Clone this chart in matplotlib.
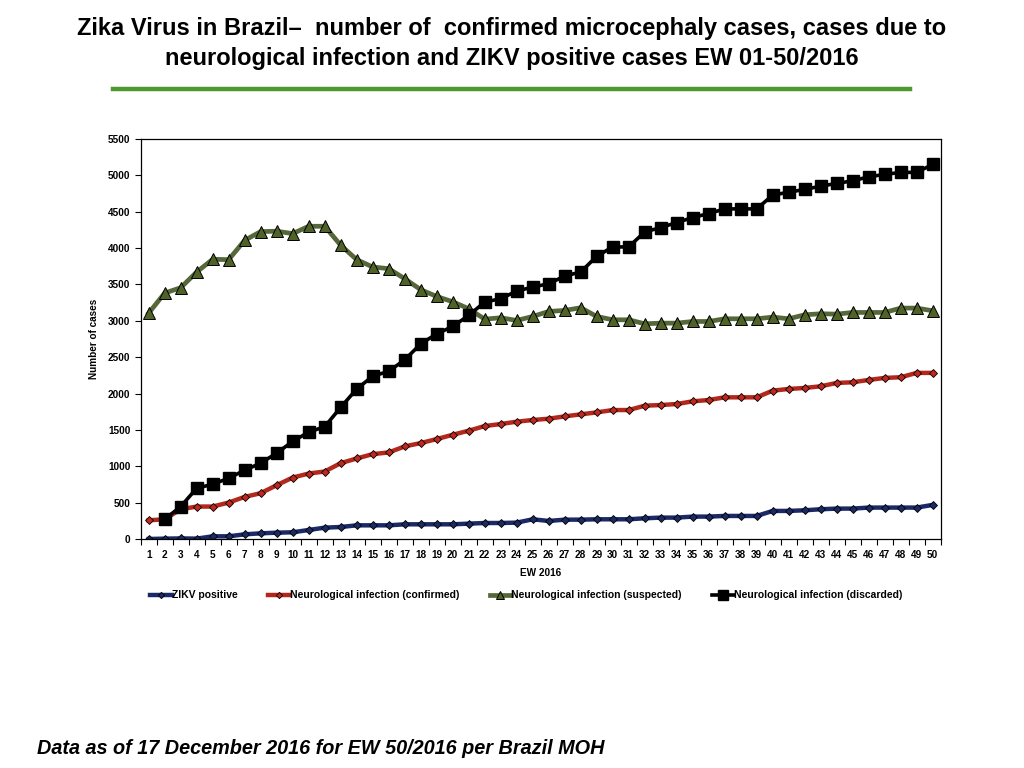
import numpy as np
import matplotlib.pyplot as plt
from matplotlib.lines import Line2D

weeks = np.arange(1, 51)

zikv_positive = [0, 5, 8, 5, 37, 37, 64, 78, 87, 92,
                 124, 156, 165, 188, 188, 188, 202, 202, 202, 202,
                 211, 220, 220, 225, 271, 248, 266, 266, 271, 271,
                 271, 285, 294, 294, 308, 308, 317, 317, 317, 386,
                 386, 395, 409, 418, 418, 432, 432, 432, 432, 469]

neuro_confirmed = [257, 271, 409, 446, 446, 501, 579, 630, 740, 845,
                   900, 928, 1043, 1107, 1167, 1190, 1273, 1319, 1374, 1433,
                   1489, 1553, 1581, 1613, 1636, 1654, 1686, 1714, 1741, 1773,
                   1773, 1833, 1842, 1856, 1893, 1911, 1948, 1948, 1948, 2040,
                   2063, 2077, 2100, 2146, 2155, 2187, 2215, 2224, 2284, 2284]

neuro_suspected = [3106, 3382, 3455, 3671, 3846, 3841, 4107, 4227, 4232, 4199,
                   4300, 4300, 4039, 3841, 3740, 3717, 3579, 3428, 3335, 3262,
                   3166, 3023, 3042, 3005, 3060, 3129, 3143, 3180, 3060, 3014,
                   3014, 2959, 2968, 2968, 2991, 2991, 3028, 3028, 3028, 3051,
                   3028, 3083, 3097, 3092, 3115, 3115, 3115, 3175, 3175, 3138]

neuro_discarded = [np.nan, 271, 446, 698, 753, 836, 946, 1043, 1181, 1342,
                   1470, 1544, 1810, 2063, 2238, 2306, 2463, 2683, 2821, 2922,
                   3074, 3258, 3304, 3409, 3464, 3510, 3616, 3671, 3887, 4016,
                   4016, 4222, 4282, 4351, 4420, 4475, 4539, 4539, 4539, 4728,
                   4769, 4806, 4852, 4889, 4925, 4980, 5013, 5041, 5041, 5151]

labels = ['ZIKV positive', 'Neurological infection (confirmed)',
          'Neurological infection (suspected)', 'Neurological infection (discarded)']

plt.rcParams['font.family'] = ['Liberation Sans', 'DejaVu Sans']

fig = plt.figure(figsize=(10.24, 7.68), dpi=100)
fig.patch.set_facecolor('white')

# title and rule
fig.text(0.5, 0.963, 'Zika Virus in Brazil\u2013  number of  confirmed microcephaly cases, cases due to',
         ha='center', va='center', fontsize=17, fontweight='bold')
fig.text(0.5, 0.924, 'neurological infection and ZIKV positive cases EW 01-50/2016',
         ha='center', va='center', fontsize=17, fontweight='bold')
fig.add_artist(Line2D([113 / 1024, 910 / 1024], [1 - 89 / 768, 1 - 89 / 768],
                      color='#4E9A2F', lw=3.2))

ax = fig.add_axes([140.7 / 1024, 1 - 539 / 768, 800 / 1024, 400 / 768])

ax.plot(weeks, zikv_positive, color='#1B2A66', lw=3.2, marker='D', ms=4,
        mfc='#1B2A66', mec='black', mew=0.6, label=labels[0])
ax.plot(weeks, neuro_confirmed, color='#B3281C', lw=3.2, marker='D', ms=4,
        mfc='#C0281C', mec='black', mew=0.6, label=labels[1])
ax.plot(weeks, neuro_suspected, color='#56683A', lw=3.4, marker='^', ms=8,
        mfc='#4F6228', mec='black', mew=0.7, label=labels[2])
ax.plot(weeks, neuro_discarded, color='black', lw=2.6, marker='s', ms=8.5,
        mfc='black', mec='black', label=labels[3])

ax.set_xlim(0.5, 50.5)
ax.set_ylim(0, 5500)
ax.set_yticks(np.arange(0, 5501, 500))
ax.set_xticks(weeks)
ax.set_xticks(np.arange(0.5, 51, 1), minor=True)
ax.tick_params(axis='x', which='major', length=0, pad=8, labelsize=7.2)
ax.tick_params(axis='x', which='minor', length=4, direction='out', width=0.8)
ax.tick_params(axis='y', length=4, direction='out', width=0.8, labelsize=7.2)
for lab in ax.get_xticklabels() + ax.get_yticklabels():
    lab.set_fontweight('bold')
for sp in ax.spines.values():
    sp.set_linewidth(0.9)

ax.set_xlabel('EW 2016', fontsize=7.2, fontweight='bold', labelpad=6)
ax.set_ylabel('Number of cases', fontsize=7.2, fontweight='bold', labelpad=6)

leg = ax.legend(loc='upper center', bbox_to_anchor=(0.482, -0.105), ncol=4, frameon=False,
                handlelength=2.1, handletextpad=0.0, columnspacing=2.9,
                prop={'weight': 'bold', 'size': 7.5})
for h in leg.legend_handles:
    h.set_markersize(h.get_markersize() * 0.8)

fig.text(37 / 1024, 1 - 748 / 768, 'Data as of 17 December 2016 for EW 50/2016 per Brazil MOH',
         ha='left', va='center', fontsize=14.3, fontweight='bold', style='italic')

fig.savefig('out.png', dpi=100)
